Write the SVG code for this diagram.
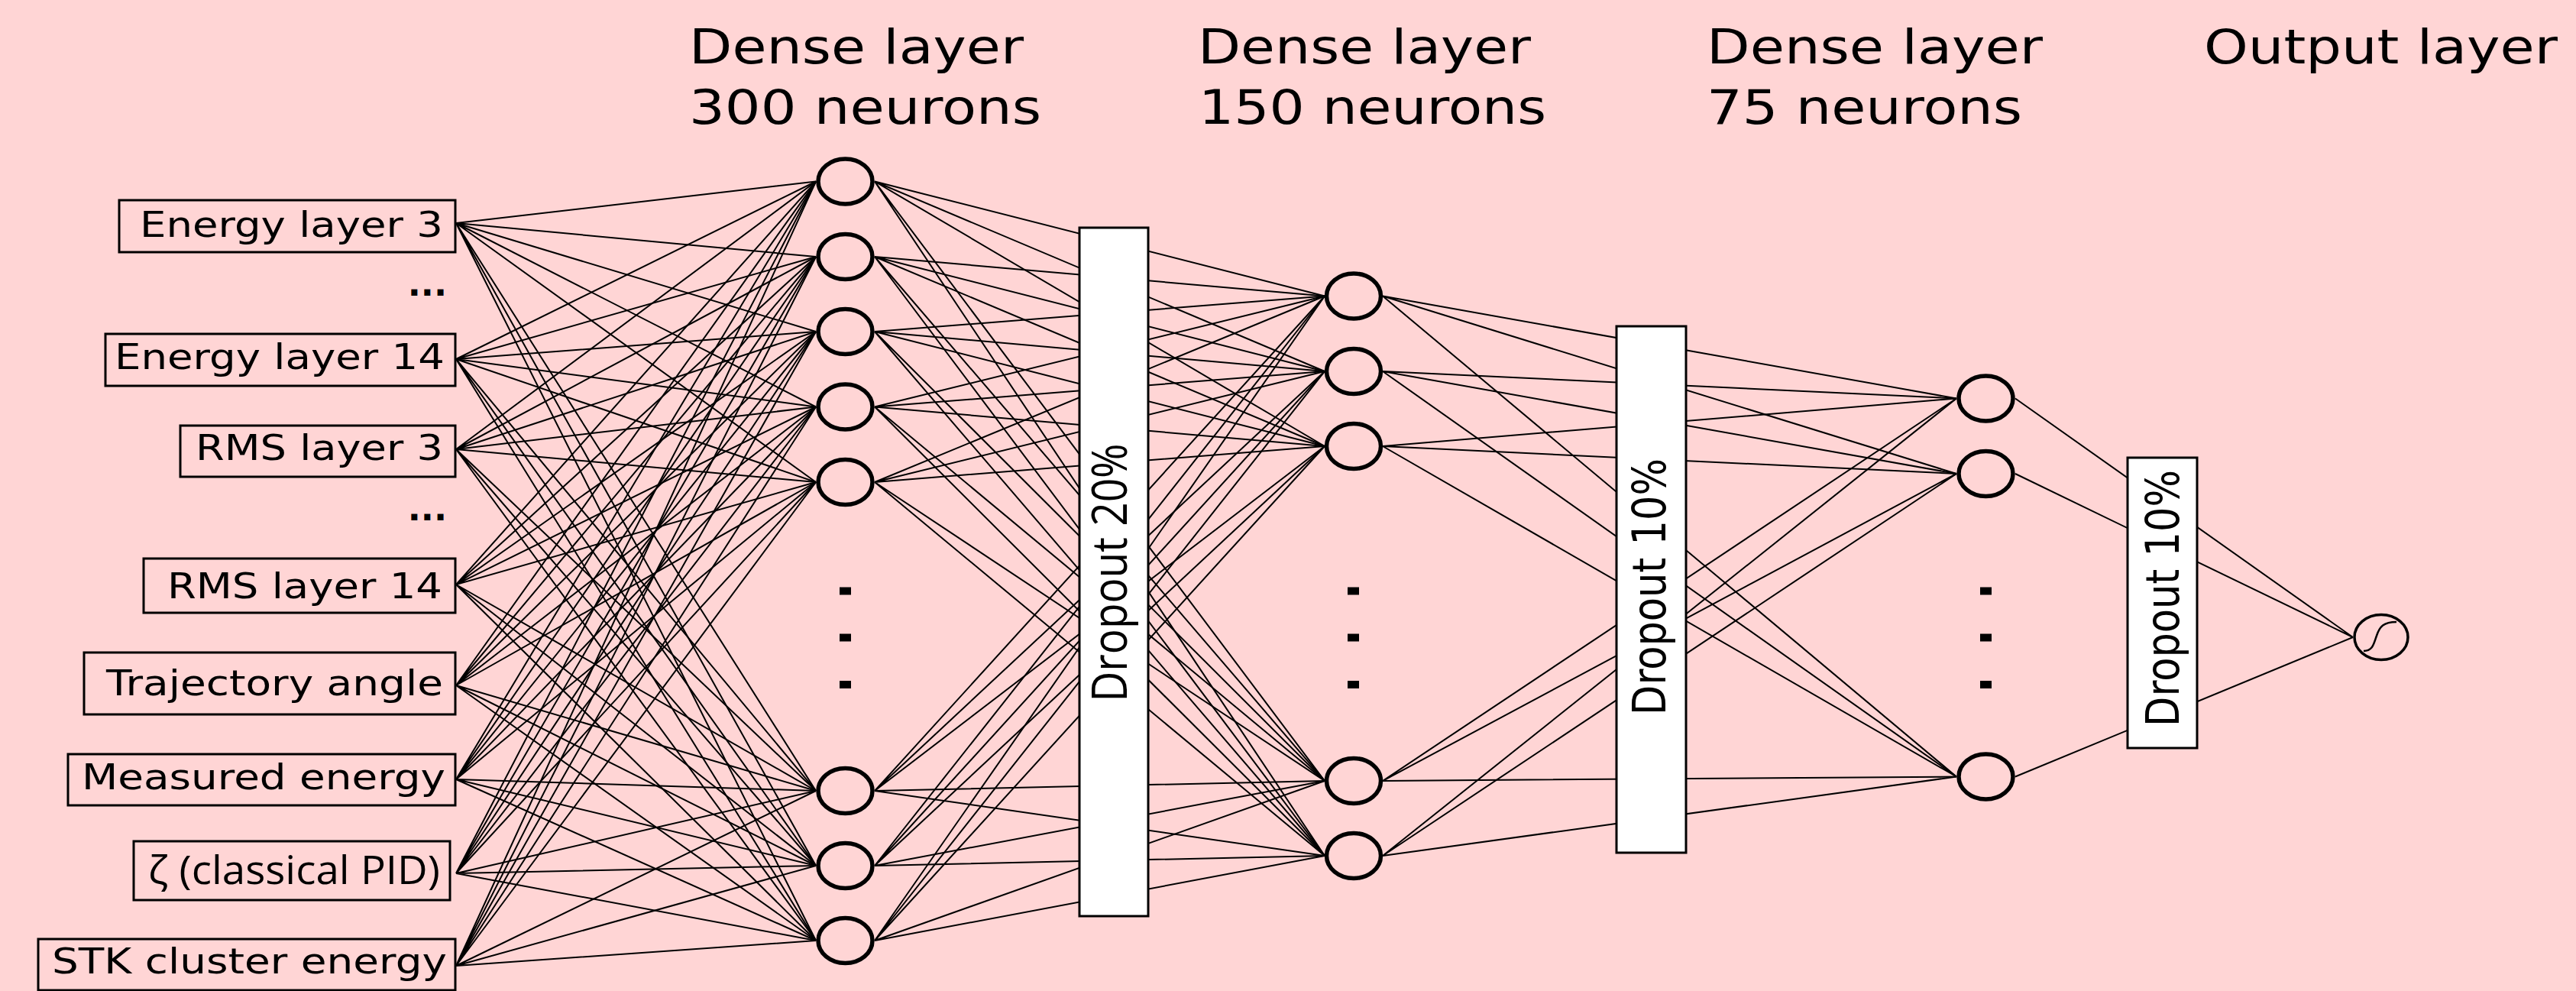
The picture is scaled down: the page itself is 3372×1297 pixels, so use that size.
<svg xmlns="http://www.w3.org/2000/svg" width="3372" height="1297" viewBox="0 0 3372 1297">
  <style>
    .bg { fill: #ffd5d5; }
    .edge { fill: none; stroke: #000; stroke-width: 2; }
    .inbox { fill: none; stroke: #000; stroke-width: 3; }
    .drop { fill: #fff; stroke: #000; stroke-width: 3; }
    .neuron { fill: #ffd5d5; stroke: #000; stroke-width: 5.5; }
    .out { fill: #ffd5d5; stroke: #000; stroke-width: 3.5; }
    .dot { fill: #000; }
    .lbl { font-family: "DejaVu Sans", "Liberation Sans", sans-serif; font-size: 47px; fill: #000; }
    .ell { font-family: "DejaVu Sans", "Liberation Sans", sans-serif; font-size: 45px; font-weight: bold; fill: #000; }
    .lbl2 { font-family: "Open Sans", "Noto Sans", "DejaVu Sans", sans-serif; font-size: 51px; fill: #000; }
    .head { font-family: "DejaVu Sans", "Liberation Sans", sans-serif; font-size: 62px; fill: #000; }
    .dtxt { font-family: "DejaVu Sans", "Liberation Sans", sans-serif; font-size: 51px; fill: #000; }
    .dtxt2 { font-family: "Open Sans", "Noto Sans", "DejaVu Sans", sans-serif; font-size: 55px; fill: #000; }
  </style>

  <rect class="bg" x="0" y="0" width="3372" height="1297"/>

  <!-- layer headings -->
  <g id="headings">
    <text class="head" x="902" y="83" textLength="438" lengthAdjust="spacingAndGlyphs">Dense layer</text>
    <text class="head" x="902" y="162" textLength="461" lengthAdjust="spacingAndGlyphs">300 neurons</text>
    <text class="head" x="1568" y="83" textLength="436" lengthAdjust="spacingAndGlyphs">Dense layer</text>
    <text class="head" x="1569" y="162" textLength="455" lengthAdjust="spacingAndGlyphs">150 neurons</text>
    <text class="head" x="2234" y="83" textLength="440" lengthAdjust="spacingAndGlyphs">Dense layer</text>
    <text class="head" x="2234" y="162" textLength="413" lengthAdjust="spacingAndGlyphs">75 neurons</text>
    <text class="head" x="2885" y="83" textLength="463" lengthAdjust="spacingAndGlyphs">Output layer</text>
  </g>

  <!-- fully connected edges -->
  <g id="connectors">
    <!-- inputs to dense layer 1 -->
    <path class="edge" d="M597 292L1068 237.5M597 292L1068 336M597 292L1068 434M597 292L1068 532.5M597 292L1068 631M597 292L1068 1035M597 292L1068 1133M597 292L1068 1231"/>
    <path class="edge" d="M597 470L1068 237.5M597 470L1068 336M597 470L1068 434M597 470L1068 532.5M597 470L1068 631M597 470L1068 1035M597 470L1068 1133M597 470L1068 1231"/>
    <path class="edge" d="M597 588L1068 237.5M597 588L1068 336M597 588L1068 434M597 588L1068 532.5M597 588L1068 631M597 588L1068 1035M597 588L1068 1133M597 588L1068 1231"/>
    <path class="edge" d="M597 765L1068 237.5M597 765L1068 336M597 765L1068 434M597 765L1068 532.5M597 765L1068 631M597 765L1068 1035M597 765L1068 1133M597 765L1068 1231"/>
    <path class="edge" d="M597 897L1068 237.5M597 897L1068 336M597 897L1068 434M597 897L1068 532.5M597 897L1068 631M597 897L1068 1035M597 897L1068 1133M597 897L1068 1231"/>
    <path class="edge" d="M597 1020L1068 237.5M597 1020L1068 336M597 1020L1068 434M597 1020L1068 532.5M597 1020L1068 631M597 1020L1068 1035M597 1020L1068 1133M597 1020L1068 1231"/>
    <path class="edge" d="M597 1143L1068 237.5M597 1143L1068 336M597 1143L1068 434M597 1143L1068 532.5M597 1143L1068 631M597 1143L1068 1035M597 1143L1068 1133M597 1143L1068 1231"/>
    <path class="edge" d="M597 1264L1068 237.5M597 1264L1068 336M597 1264L1068 434M597 1264L1068 532.5M597 1264L1068 631M597 1264L1068 1035M597 1264L1068 1133M597 1264L1068 1231"/>
    <!-- dense layer 1 to dense layer 2 -->
    <path class="edge" d="M1145 237.5L1734 387.5M1145 237.5L1734 486M1145 237.5L1734 584M1145 237.5L1734 1022M1145 237.5L1734 1120"/>
    <path class="edge" d="M1145 336L1734 387.5M1145 336L1734 486M1145 336L1734 584M1145 336L1734 1022M1145 336L1734 1120"/>
    <path class="edge" d="M1145 434L1734 387.5M1145 434L1734 486M1145 434L1734 584M1145 434L1734 1022M1145 434L1734 1120"/>
    <path class="edge" d="M1145 532.5L1734 387.5M1145 532.5L1734 486M1145 532.5L1734 584M1145 532.5L1734 1022M1145 532.5L1734 1120"/>
    <path class="edge" d="M1145 631L1734 387.5M1145 631L1734 486M1145 631L1734 584M1145 631L1734 1022M1145 631L1734 1120"/>
    <path class="edge" d="M1145 1035L1734 387.5M1145 1035L1734 486M1145 1035L1734 584M1145 1035L1734 1022M1145 1035L1734 1120"/>
    <path class="edge" d="M1145 1133L1734 387.5M1145 1133L1734 486M1145 1133L1734 584M1145 1133L1734 1022M1145 1133L1734 1120"/>
    <path class="edge" d="M1145 1231L1734 387.5M1145 1231L1734 486M1145 1231L1734 584M1145 1231L1734 1022M1145 1231L1734 1120"/>
    <!-- dense layer 2 to dense layer 3 -->
    <path class="edge" d="M1810 387.5L2561 521.5M1810 387.5L2561 620M1810 387.5L2561 1016.5"/>
    <path class="edge" d="M1810 486L2561 521.5M1810 486L2561 620M1810 486L2561 1016.5"/>
    <path class="edge" d="M1810 584L2561 521.5M1810 584L2561 620M1810 584L2561 1016.5"/>
    <path class="edge" d="M1810 1022L2561 521.5M1810 1022L2561 620M1810 1022L2561 1016.5"/>
    <path class="edge" d="M1810 1120L2561 521.5M1810 1120L2561 620M1810 1120L2561 1016.5"/>
    <!-- dense layer 3 to output -->
    <path class="edge" d="M2638 521.5L3080 834M2638 620L3080 834M2638 1016.5L3080 834"/>
  </g>

  <!-- dropout stages -->
  <g id="dropout-20">
    <rect class="drop" x="1413" y="298" width="90" height="901"/>
    <text class="dtxt2" text-anchor="middle" transform="translate(1475 749.5) scale(1.17 1) rotate(-90)">Dropout 20%</text>
  </g>
  <g id="dropout-10a">
    <rect class="drop" x="2116" y="427" width="91" height="689"/>
    <text class="dtxt" text-anchor="middle" transform="translate(2180 768) scale(1.17 1) rotate(-90)">Dropout 10%</text>
  </g>
  <g id="dropout-10b">
    <rect class="drop" x="2785" y="599" width="91" height="380"/>
    <text class="dtxt" text-anchor="middle" transform="translate(2851.5 783) scale(1.17 1) rotate(-90)">Dropout 10%</text>
  </g>

  <!-- dense layer 1 -->
  <g id="dense-1">
    <ellipse class="neuron" cx="1106.5" cy="237.5" rx="35.5" ry="29.5"/>
    <ellipse class="neuron" cx="1106.5" cy="336" rx="35.5" ry="29.5"/>
    <ellipse class="neuron" cx="1106.5" cy="434" rx="35.5" ry="29.5"/>
    <ellipse class="neuron" cx="1106.5" cy="532.5" rx="35.5" ry="29.5"/>
    <ellipse class="neuron" cx="1106.5" cy="631" rx="35.5" ry="29.5"/>
    <rect class="dot" x="1099" y="768.5" width="15" height="10"/>
    <rect class="dot" x="1099" y="829.5" width="15" height="10"/>
    <rect class="dot" x="1099" y="891" width="15" height="10"/>
    <ellipse class="neuron" cx="1106.5" cy="1035" rx="35.5" ry="29.5"/>
    <ellipse class="neuron" cx="1106.5" cy="1133" rx="35.5" ry="29.5"/>
    <ellipse class="neuron" cx="1106.5" cy="1231" rx="35.5" ry="29.5"/>
  </g>

  <!-- dense layer 2 -->
  <g id="dense-2">
    <ellipse class="neuron" cx="1772" cy="387.5" rx="35.5" ry="29.5"/>
    <ellipse class="neuron" cx="1772" cy="486" rx="35.5" ry="29.5"/>
    <ellipse class="neuron" cx="1772" cy="584" rx="35.5" ry="29.5"/>
    <rect class="dot" x="1764" y="768.5" width="15" height="10"/>
    <rect class="dot" x="1764" y="829.5" width="15" height="10"/>
    <rect class="dot" x="1764" y="891" width="15" height="10"/>
    <ellipse class="neuron" cx="1772" cy="1022" rx="35.5" ry="29.5"/>
    <ellipse class="neuron" cx="1772" cy="1120" rx="35.5" ry="29.5"/>
  </g>

  <!-- dense layer 3 -->
  <g id="dense-3">
    <ellipse class="neuron" cx="2599.5" cy="521.5" rx="35.5" ry="29.5"/>
    <ellipse class="neuron" cx="2599.5" cy="620" rx="35.5" ry="29.5"/>
    <rect class="dot" x="2592" y="768.5" width="15" height="10"/>
    <rect class="dot" x="2592" y="829.5" width="15" height="10"/>
    <rect class="dot" x="2592" y="891" width="15" height="10"/>
    <ellipse class="neuron" cx="2599.5" cy="1016.5" rx="35.5" ry="29.5"/>
  </g>

  <!-- sigmoid output neuron -->
  <g id="output">
    <ellipse class="out" cx="3117" cy="834" rx="35" ry="29.5"/>
    <path d="M3094 852C3106 852 3107 843 3111 832C3115 820 3120 814 3137 814" fill="none" stroke="#000" stroke-width="2.5"/>
  </g>

  <!-- input features -->
  <g id="in-energy-3">
    <rect class="inbox" x="156" y="262" width="440" height="68"/>
    <text class="lbl" x="580" y="310" text-anchor="end" textLength="397" lengthAdjust="spacingAndGlyphs">Energy layer 3</text>
  </g>
  <g id="in-gap-1">
    <text class="ell" x="585" y="387" text-anchor="end">...</text>
  </g>
  <g id="in-energy-14">
    <rect class="inbox" x="138" y="437" width="458" height="68"/>
    <text class="lbl" x="582" y="483" text-anchor="end" textLength="432" lengthAdjust="spacingAndGlyphs">Energy layer 14</text>
  </g>
  <g id="in-rms-3">
    <rect class="inbox" x="236" y="557" width="360" height="67"/>
    <text class="lbl" x="580" y="602" text-anchor="end" textLength="324" lengthAdjust="spacingAndGlyphs">RMS layer 3</text>
  </g>
  <g id="in-gap-2">
    <text class="ell" x="585" y="681" text-anchor="end">...</text>
  </g>
  <g id="in-rms-14">
    <rect class="inbox" x="188" y="731" width="408" height="71"/>
    <text class="lbl" x="579" y="783" text-anchor="end" textLength="360" lengthAdjust="spacingAndGlyphs">RMS layer 14</text>
  </g>
  <g id="in-angle">
    <rect class="inbox" x="110" y="854" width="486" height="81"/>
    <text class="lbl" x="580" y="910" text-anchor="end" textLength="441" lengthAdjust="spacingAndGlyphs">Trajectory angle</text>
  </g>
  <g id="in-energy">
    <rect class="inbox" x="89" y="987" width="507" height="67"/>
    <text class="lbl" x="583" y="1033" text-anchor="end" textLength="476" lengthAdjust="spacingAndGlyphs">Measured energy</text>
  </g>
  <g id="in-zeta">
    <rect class="inbox" x="175" y="1101" width="414" height="77"/>
    <text class="lbl2" x="576" y="1157" text-anchor="end" textLength="382" lengthAdjust="spacingAndGlyphs">ζ (classical PID)</text>
  </g>
  <g id="in-stk">
    <rect class="inbox" x="50" y="1229" width="546" height="67"/>
    <text class="lbl" x="585" y="1274" text-anchor="end" textLength="517" lengthAdjust="spacingAndGlyphs">STK cluster energy</text>
  </g>
</svg>
